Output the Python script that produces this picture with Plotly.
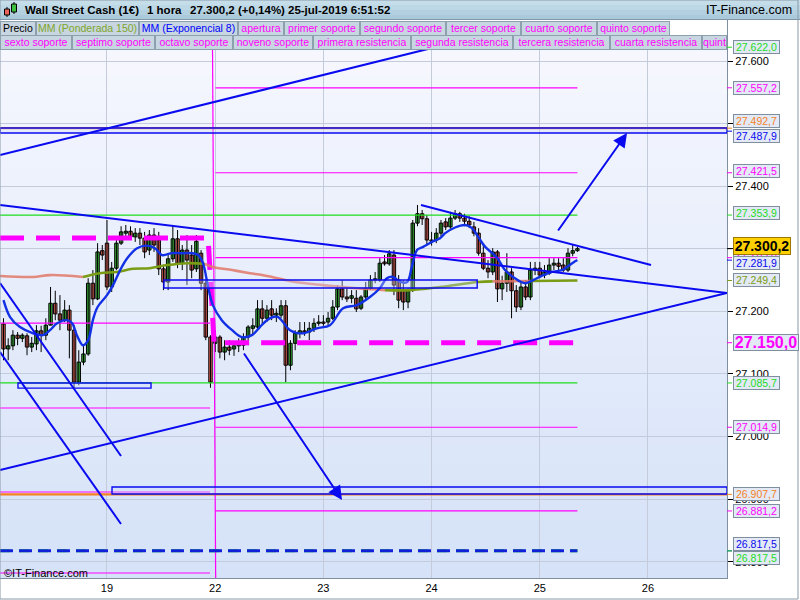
import plotly.graph_objects as go

# ---------------- data (hourly candles, Wall Street Cash) ----------------
opens = [27180, 27140, 27145, 27162, 27157, 27161, 27143, 27148, 27169, 27162,
         27178, 27213, 27196, 27186, 27202, 27170, 27087, 27119, 27132, 27245,
         27220, 27297, 27309, 27239, 27269, 27309, 27325, 27328, 27319, 27325,
         27317, 27298, 27322, 27314, 27268, 27247, 27284, 27316, 27277, 27298,
         27290, 27268, 27293, 27245, 27159, 27149, 27159, 27135, 27143, 27140,
         27145, 27146, 27159, 27173, 27175, 27204, 27189, 27204, 27194, 27194,
         27209, 27114, 27149, 27165, 27169, 27167, 27173, 27181, 27183, 27183,
         27189, 27207, 27236, 27223, 27221, 27221, 27205, 27223, 27237, 27250,
         27250, 27279, 27276, 27290, 27250, 27234, 27215, 27234, 27341, 27356,
         27348, 27314, 27314, 27325, 27343, 27335, 27349, 27356, 27349, 27344,
         27335, 27325, 27293, 27269, 27263, 27295, 27236, 27245, 27263, 27233,
         27207, 27239, 27223, 27266, 27269, 27258, 27261, 27274, 27277, 27274,
         27266, 27293, 27297]
highs = [27189, 27157, 27170, 27167, 27165, 27165, 27159, 27178, 27177, 27189,
         27239, 27233, 27226, 27218, 27210, 27178, 27138, 27146, 27253, 27266,
         27309, 27306, 27346, 27279, 27314, 27336, 27338, 27336, 27333, 27333,
         27327, 27330, 27333, 27327, 27274, 27290, 27338, 27330, 27306, 27322,
         27306, 27322, 27298, 27250, 27162, 27170, 27162, 27154, 27154, 27151,
         27157, 27165, 27178, 27189, 27218, 27218, 27210, 27218, 27205, 27218,
         27218, 27154, 27170, 27183, 27183, 27183, 27189, 27194, 27194, 27199,
         27218, 27242, 27250, 27237, 27234, 27234, 27226, 27247, 27258, 27263,
         27285, 27290, 27298, 27298, 27258, 27250, 27237, 27346, 27370, 27362,
         27354, 27327, 27333, 27346, 27349, 27359, 27362, 27359, 27356, 27352,
         27343, 27333, 27306, 27282, 27301, 27298, 27257, 27293, 27269, 27242,
         27247, 27250, 27279, 27279, 27279, 27274, 27285, 27285, 27285, 27285,
         27301, 27306, 27303]
lows = [27122, 27122, 27138, 27146, 27151, 27130, 27135, 27138, 27135, 27154,
        27178, 27186, 27170, 27183, 27125, 27078, 27082, 27114, 27129, 27210,
        27218, 27282, 27234, 27231, 27266, 27306, 27314, 27314, 27311, 27306,
        27285, 27290, 27295, 27258, 27234, 27234, 27279, 27269, 27266, 27242,
        27253, 27263, 27234, 27154, 27078, 27135, 27125, 27122, 27130, 27129,
        27135, 27138, 27146, 27162, 27170, 27178, 27183, 27186, 27183, 27189,
        27087, 27106, 27138, 27157, 27161, 27154, 27167, 27177, 27177, 27178,
        27186, 27202, 27218, 27215, 27213, 27199, 27202, 27218, 27234, 27245,
        27247, 27273, 27273, 27226, 27205, 27202, 27205, 27231, 27336, 27338,
        27306, 27305, 27309, 27320, 27330, 27332, 27346, 27343, 27336, 27333,
        27320, 27289, 27266, 27253, 27258, 27215, 27218, 27231, 27189, 27199,
        27202, 27218, 27218, 27258, 27253, 27253, 27258, 27266, 27266, 27263,
        27263, 27288, 27295]
closes = [27140, 27145, 27162, 27157, 27162, 27143, 27149, 27169, 27162, 27178,
          27213, 27196, 27186, 27202, 27170, 27087, 27119, 27132, 27245, 27220,
          27295, 27290, 27239, 27269, 27309, 27327, 27328, 27319, 27325, 27317,
          27295, 27322, 27306, 27268, 27247, 27284, 27316, 27277, 27298, 27282,
          27266, 27312, 27245, 27159, 27087, 27159, 27135, 27143, 27138, 27145,
          27149, 27159, 27175, 27177, 27204, 27189, 27202, 27194, 27197, 27209,
          27114, 27149, 27165, 27169, 27167, 27173, 27181, 27183, 27181, 27189,
          27207, 27236, 27223, 27220, 27225, 27204, 27223, 27237, 27250, 27252,
          27277, 27276, 27292, 27242, 27218, 27215, 27234, 27341, 27356, 27348,
          27314, 27312, 27325, 27341, 27335, 27349, 27356, 27349, 27344, 27338,
          27325, 27293, 27269, 27263, 27295, 27236, 27245, 27263, 27233, 27207,
          27239, 27223, 27266, 27269, 27258, 27263, 27274, 27277, 27272, 27266,
          27293, 27297, 27300.2]

day_labels = ['19', '22', '23', '24', '25', '26']
day_start_index = [22, 45, 68, 91, 114, 137]

# indicator values: (candle position, price)
ema8_points = [(0, 27218), (1.4, 27191), (3.5, 27175), (6.3, 27165), (8.4, 27162), (9.9, 27170),
               (11.4, 27181), (13.5, 27186), (14.6, 27181), (15.6, 27162), (16.9, 27146), (18, 27154),
               (19, 27186), (20, 27207), (22, 27226), (23.3, 27242), (24.8, 27266), (26.3, 27285),
               (28.4, 27301), (30.5, 27305), (32.2, 27301), (33.7, 27290), (35.8, 27293), (37.9, 27293),
               (40, 27293), (41.4, 27290), (42.4, 27277), (43.5, 27239), (44.5, 27210), (46.4, 27186),
               (48.6, 27170), (50.7, 27159), (52.8, 27162), (54.5, 27175), (56, 27186), (57.3, 27191),
               (58.4, 27191), (59.4, 27183), (60.9, 27170), (63.7, 27165), (66.6, 27173), (69.4, 27178),
               (72.2, 27205), (75.1, 27210), (77.9, 27223), (80, 27237), (81.5, 27253), (82.8, 27255),
               (84.3, 27247), (85.8, 27247), (86.8, 27271), (87.9, 27298), (89.2, 27303), (91.1, 27311),
               (92.8, 27317), (93.9, 27325), (96, 27334), (98.1, 27338), (99.6, 27333), (100.9, 27319),
               (102.4, 27303), (103.9, 27293), (105, 27285), (106.6, 27266), (108.7, 27253),
               (110.9, 27245), (112.6, 27250), (114.5, 27257), (116.6, 27263), (118.7, 27266),
               (120, 27272), (121.5, 27280), (122, 27281.9)]
wma150_points = [(-0.74, 27256.5), (6.3, 27255), (9.9, 27258), (16.9, 27255), (20.5, 27261),
                 (24.1, 27263), (27.5, 27268), (31.1, 27269), (34.8, 27274), (39.2, 27277),
                 (42.8, 27276), (44.5, 27271), (48.6, 27266), (52.4, 27261), (55, 27258),
                 (58.8, 27252), (62, 27247), (67.9, 27242), (75.1, 27237), (81.1, 27234),
                 (86.4, 27234), (92.8, 27239), (100.9, 27247), (104, 27248), (112, 27248.5),
                 (122, 27249.4)]

# levels
green_levels = [27622.0, 27353.9, 27085.7, 26817.5]
orange_levels = [27492.7, 26907.7]
cur_resistances = [27285.8, 27421.5, 27557.2]
cur_supports = [27014.9, 26881.2]
cur_open = 27150.0
prev_supports = [27181.4, 27045.7, 26911.5, 26782.1]
prev_open = 27317.2
blue_level = 27487.9
last_price = 27300.2
change_pct = 0.14
ema_last = 27281.9
wma_last = 27249.4

# session boundaries (candle positions)
prev_end, cur_start, cur_end = 43.9, 45.07, 122.0

# drawn objects: (pos0, price0, pos1, price1)
trend_lines = [(-0.74, 27449.8, 92.8, 27623.9),
               (-0.74, 27369.9, 153.8, 27229.4),
               (-0.74, 26946.6, 153.8, 27229.4),
               (88.75, 27369.9, 137.65, 27274.1),
               (-0.74, 27245.4, 24.98, 26969.0),
               (-0.74, 27135.1, 24.98, 26860.4)]
arrows = [(117.67, 27326.8, 132.55, 27484.9),
          (50.91, 27135.1, 71.96, 26898.7)]
boxes = [(3.08, 27085.5, 31.36, 27077.5),
         (34.1, 27250.1, 100.7, 27237.3),
         (-0.74, 27492.9, 153.8, 27484.9),
         (23.07, 26919.5, 153.8, 26908.3)]
session_divider = (44.4, 27665.5, 45.1, 26774.1)

legend_row1 = ['Precio', 'MM (Ponderada 150)', 'MM (Exponencial 8)', 'apertura', 'primer soporte',
               'segundo soporte', 'tercer soporte', 'cuarto soporte', 'quinto soporte']
legend_row2 = ['sexto soporte', 'septimo soporte', 'octavo soporte', 'noveno soporte',
               'primera resistencia', 'segunda resistencia', 'tercera resistencia',
               'cuarta resistencia', 'quint']

# ---------------- style ----------------
FONT = 'Liberation Sans, Arial, sans-serif'
MAG = '#FF00FF'
GRN = '#1EDC1E'
ORG = '#F5821F'
BLUE = '#0A0AF0'
OLIVE = '#7A9C14'
SALMON = 'rgba(226,120,105,0.85)'
UP = '#3DBE3D'
DOWN = '#E8645C'
X_MIN, X_MAX = -0.744, 153.8
Y_MIN, Y_MAX = 26774.1, 27665.5
PW, PT, PB = 727, 20, 578


def fmt(v, d=1):
    s = f"{v:,.{d}f}"
    return s.replace(',', '_').replace('.', ',').replace('_', '.')


def px(xp):
    return xp / PW


def py(yp):
    return (PB - yp) / (PB - PT)


fig = go.Figure()

# candles: wicks then bodies
idx = list(range(len(opens)))
wick_x, wick_y = [], []
for i, h, l in zip(idx, highs, lows):
    wick_x += [i, i, None]
    wick_y += [l, h, None]
fig.add_trace(go.Scatter(x=wick_x, y=wick_y, mode='lines', line=dict(color='#000', width=1),
                         showlegend=False, hoverinfo='skip'))
body_base = [min(o, c) for o, c in zip(opens, closes)]
body_len = [max(abs(c - o), 1.5) for o, c in zip(opens, closes)]
body_col = [UP if c >= o else DOWN for o, c in zip(opens, closes)]
fig.add_trace(go.Bar(x=idx, y=body_len, base=body_base, width=0.72,
                     marker=dict(color=body_col, line=dict(color='#000', width=1)),
                     showlegend=False, hoverinfo='skip'))


def hline(x0, x1, y, color, width=1, dash='solid'):
    fig.add_trace(go.Scatter(x=[x0, x1], y=[y, y], mode='lines',
                             line=dict(color=color, width=width, dash=dash),
                             showlegend=False, hoverinfo='skip'))


for lv in green_levels[:-1]:
    hline(X_MIN, cur_end, lv, GRN, 1.2)
for lv in orange_levels:
    hline(X_MIN, X_MAX, lv, ORG, 2.2)
for lv in prev_supports:
    hline(X_MIN, prev_end, lv, MAG, 1.2)
for lv in cur_resistances + cur_supports:
    hline(cur_start, cur_end, lv, MAG, 1.2)
fig.add_trace(go.Scatter(x=[session_divider[0], session_divider[2]],
                         y=[session_divider[1], session_divider[3]], mode='lines',
                         line=dict(color=MAG, width=1.2), showlegend=False, hoverinfo='skip'))
fig.add_trace(go.Scatter(x=[X_MIN, prev_end - 0.4, cur_start - 0.3, cur_end],
                         y=[prev_open, prev_open, cur_open, cur_open], mode='lines',
                         line=dict(color=MAG, width=5, dash='24px,12px'),
                         showlegend=False, hoverinfo='skip'))
hline(X_MIN, cur_end, green_levels[-1], GRN, 3, '10px,9px')
hline(X_MIN, cur_end, green_levels[-1], '#1020D8', 3, '13px,6px')

wma_runs = [(0, 3, SALMON), (3, 10, OLIVE), (10, 19, SALMON), (19, 23, OLIVE),
            (23, 24, SALMON), (24, 25, OLIVE)]
for a, b, col in wma_runs:
    pts = wma150_points[a:b + 1]
    fig.add_trace(go.Scatter(x=[p[0] for p in pts], y=[p[1] for p in pts], mode='lines',
                             line=dict(color=col, width=2.6, shape='spline'),
                             showlegend=False, hoverinfo='skip'))
fig.add_trace(go.Scatter(x=[p[0] for p in ema8_points], y=[p[1] for p in ema8_points],
                         mode='lines', line=dict(color='#1230E6', width=2.4, shape='spline'),
                         showlegend=False, hoverinfo='skip'))

shapes = []
n = 30
for k in range(n):
    t = k / (n - 1)
    r = round(247 + (213 - 247) * t)
    g = round(248 + (226 - 248) * t)
    b = round(254 + (248 - 254) * t)
    y0p = PT + (PB - PT) * k / n
    y1p = PT + (PB - PT) * (k + 1) / n
    shapes.append(dict(type='rect', xref='paper', yref='paper', x0=0, x1=1,
                       y0=py(y1p), y1=py(y0p) + 0.002, fillcolor=f'rgb({r},{g},{b})',
                       line=dict(width=0), layer='below'))

for (x0, y0, x1, y1) in boxes:
    shapes.append(dict(type='rect', xref='x', yref='y', x0=x0, x1=x1, y0=y1, y1=y0,
                       line=dict(color=BLUE, width=1.4),
                       fillcolor='rgba(205,218,250,0.35)', layer='above'))
for (x0, y0, x1, y1) in trend_lines:
    shapes.append(dict(type='line', xref='x', yref='y', x0=x0, y0=y0, x1=x1, y1=y1,
                       line=dict(color=BLUE, width=2), layer='above'))

shapes.append(dict(type='rect', xref='paper', yref='paper', x0=0, x1=1, y0=py(49.5), y1=py(PT),
                   fillcolor='white', line=dict(width=0), layer='above'))
bar_cols = ['#C4DDE9', '#BCD7E5', '#B3D0E0', '#AACADB']
for k, c in enumerate(bar_cols):
    shapes.append(dict(type='rect', xref='paper', yref='paper', x0=0, x1=px(800),
                       y0=py(5 * (k + 1)), y1=py(5 * k), fillcolor=c, line=dict(width=0),
                       layer='above'))
shapes.append(dict(type='line', xref='paper', yref='paper', x0=0, x1=px(800), y0=py(19.5),
                   y1=py(19.5), line=dict(color='#7F98A8', width=1), layer='above'))
shapes += [
    dict(type='line', xref='paper', yref='paper', x0=px(7), x1=px(7), y0=py(17), y1=py(7),
         line=dict(color='#000', width=1), layer='above'),
    dict(type='rect', xref='paper', yref='paper', x0=px(4.5), x1=px(9.5), y0=py(15), y1=py(9),
         fillcolor=DOWN, line=dict(color='#000', width=1), layer='above'),
    dict(type='line', xref='paper', yref='paper', x0=px(14), x1=px(14), y0=py(14), y1=py(2),
         line=dict(color='#000', width=1), layer='above'),
    dict(type='rect', xref='paper', yref='paper', x0=px(11.5), x1=px(16.5), y0=py(12), y1=py(4),
         fillcolor=UP, line=dict(color='#000', width=1), layer='above'),
]
shapes.append(dict(type='rect', xref='paper', yref='paper', x0=0, x1=px(798), y0=py(599),
                   y1=py(0), line=dict(color='#8A9AA8', width=1), fillcolor='rgba(0,0,0,0)',
                   layer='above'))

annotations = []
for (x0, y0, x1, y1) in arrows:
    annotations.append(dict(x=x1, y=y1, ax=x0, ay=y0, xref='x', yref='y', axref='x', ayref='y',
                            showarrow=True, arrowhead=2, arrowsize=1.4, arrowwidth=2,
                            arrowcolor=BLUE, text='', standoff=0))

hdr = [(23, 'Wall Street Cash (1€)'), (145, '1 hora'),
       (188, f"{fmt(last_price)} (+{fmt(change_pct, 2)}%)"),
       (286, '25-jul-2019 6:51:52')]
for xpos, txt in hdr:
    annotations.append(dict(x=px(xpos), y=py(10), xref='paper', yref='paper', xanchor='left',
                            yanchor='middle', text=f'<b>{txt}</b>', showarrow=False,
                            font=dict(family=FONT, size=11.5, color='#000')))
annotations.append(dict(x=px(794), y=py(10), xref='paper', yref='paper', xanchor='right',
                        yanchor='middle', text='IT-Finance.com', showarrow=False,
                        font=dict(family=FONT, size=12.5, color='#000')))

row1_w = [36, 103, 99, 46, 76, 86, 75, 76, 73]
row2_w = [72, 83, 78, 80, 98, 102, 97, 92, 25]
row1_col = ['#000000', '#7FA52A', '#0000FF'] + [MAG] * 6
row2_col = [MAG] * 9
for row, widths, cols, ytop in [(legend_row1, row1_w, row1_col, 20.5),
                                (legend_row2, row2_w, row2_col, 35.0)]:
    xcur = 0
    for txt, w, c in zip(row, widths, cols):
        annotations.append(dict(x=px(xcur), y=py(ytop), xref='paper', yref='paper',
                                xanchor='left', yanchor='top', text=txt, showarrow=False,
                                width=w - 2, height=12.5, borderpad=0, borderwidth=1,
                                bordercolor='#8DA0AE', bgcolor='#C7D6E0', align='center',
                                font=dict(family=FONT, size=10.5, color=c)))
        xcur += w

value_labels = [(green_levels[0], GRN, 0), (cur_resistances[2], MAG, 0),
                (orange_levels[0], ORG, 7), (blue_level, BLUE, -5),
                (cur_resistances[1], MAG, 2), (green_levels[1], GRN, 2),
                (cur_resistances[0], MAG, 4),
                (ema_last, BLUE, -3), (wma_last, OLIVE, 0),
                (green_levels[2], GRN, 0), (cur_supports[0], MAG, 0),
                (orange_levels[1], ORG, 0), (cur_supports[1], MAG, 0),
                (green_levels[3], BLUE, 7), (green_levels[3], GRN, -7)]
for v, c, sh in value_labels:
    shapes.append(dict(type='line', xref='paper', yref='y', x0=1, x1=px(732), y0=v, y1=v,
                       line=dict(color=c, width=1), layer='above'))
    annotations.append(dict(x=px(732.5), y=v, xref='paper', yref='y', xanchor='left',
                            yanchor='middle', yshift=sh, text=fmt(v), showarrow=False,
                            width=45, height=12, borderpad=0, borderwidth=1,
                            bordercolor='#7F8F9F', bgcolor='#E3E9F5',
                            font=dict(family=FONT, size=10.5, color=c)))
annotations.append(dict(x=px(732.5), y=cur_open, xref='paper', yref='y', xanchor='left',
                        yanchor='middle', text=f'<b>{fmt(cur_open)}</b>', showarrow=False,
                        width=64, height=15, borderpad=0, borderwidth=1,
                        bordercolor='#7F8F9F', bgcolor='#E3E9F5',
                        font=dict(family=FONT, size=16, color=MAG)))
shapes.append(dict(type='line', xref='paper', yref='y', x0=1, x1=px(732), y0=cur_open,
                   y1=cur_open, line=dict(color=MAG, width=1), layer='above'))
annotations.append(dict(x=px(732.5), y=last_price, xref='paper', yref='y', xanchor='left',
                        yanchor='middle', yshift=3, text=f'<b>{fmt(last_price)}</b>',
                        showarrow=False, width=56, height=16, borderpad=0, borderwidth=1,
                        bordercolor='#A07800', bgcolor='#FFD000',
                        font=dict(family=FONT, size=14, color='#000')))
shapes.append(dict(type='line', xref='paper', yref='y', x0=1, x1=px(732), y0=last_price,
                   y1=last_price, line=dict(color='#000', width=1), layer='above'))

annotations.append(dict(x=px(2), y=py(573), xref='paper', yref='paper', xanchor='left',
                        yanchor='middle', text='©IT-Finance.com', showarrow=False,
                        font=dict(family=FONT, size=11, color='#000')))

fig.update_layout(
    width=800, height=600,
    margin=dict(l=0, r=800 - PW, t=PT, b=600 - PB),
    paper_bgcolor='white', plot_bgcolor='#E6ECFA',
    separators=',.', barmode='overlay',
    showlegend=False, hovermode=False,
    shapes=shapes, annotations=annotations,
    font=dict(family=FONT, size=11, color='#000'),
    xaxis=dict(range=[X_MIN, X_MAX], tickvals=day_start_index, ticktext=day_labels,
               showgrid=True, gridcolor='#C4CCDC', gridwidth=1, zeroline=False,
               ticks='', showline=True,
               linecolor='#7F8F9F', mirror=True, tickfont=dict(size=11, color='#000')),
    yaxis=dict(range=[Y_MIN, Y_MAX], side='right', dtick=100, tick0=0, tickformat=',.0f',
               showgrid=True, gridcolor='#C4CCDC', gridwidth=1, zeroline=False,
               ticks='outside', ticklen=5, tickcolor='#000', showline=True,
               linecolor='#7F8F9F', mirror=True, tickfont=dict(size=11, color='#000')),
)

fig.write_html('out.html', config={'displayModeBar': False},
               post_script="document.body.style.margin='0px';")
